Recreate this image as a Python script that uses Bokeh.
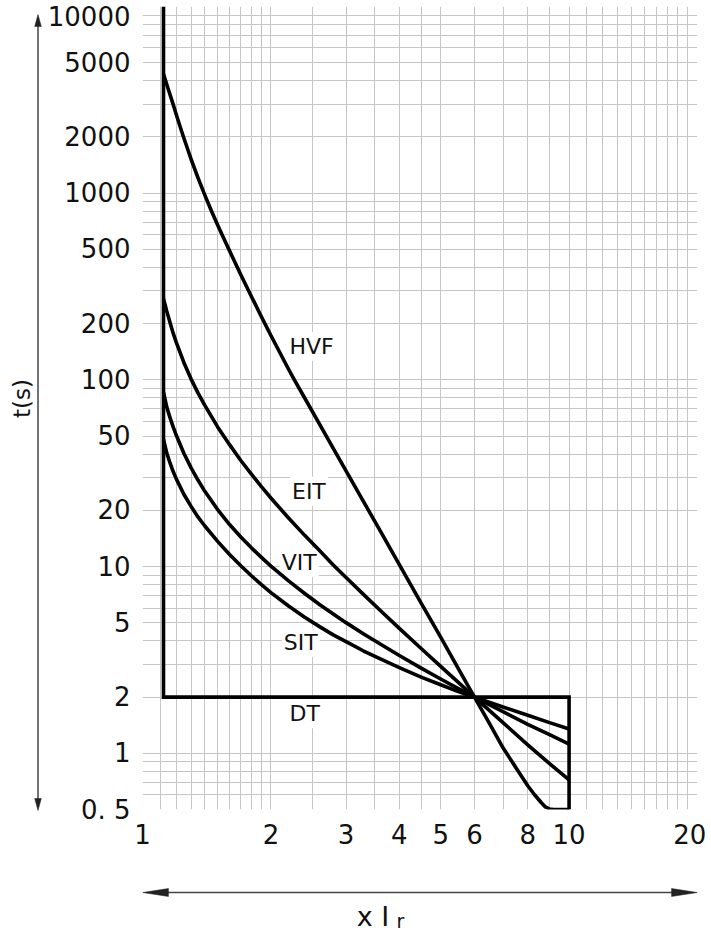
import math
from bokeh.plotting import figure
from bokeh.layouts import row, column
from bokeh.models import FixedTicker
from bokeh.core.properties import value
from bokeh.embed import file_html
from bokeh.resources import INLINE

# ---------------- data ----------------
x_major_ticks = [1, 2, 3, 4, 5, 6, 8, 10, 20]
x_tick_labels = ["1", "2", "3", "4", "5", "6", "8", "10", "20\u2009"]
# the top label sits a little below its 10000 line, as in the source chart
y_major_ticks = [0.5, 1, 2, 5, 10, 20, 50, 100, 200, 500, 1000, 2000, 5000, 8760]
y_tick_labels = ["0. 5", "1", "2", "5", "10", "20", "50", "100", "200", "500",
                 "1000", "2000", "5000", "10000"]

x_grid = [1, 1.1, 1.2, 1.3, 1.4, 1.5, 1.6, 1.7, 1.8, 1.9, 2, 2.5, 3, 3.5, 4, 4.5, 5,
          6, 7, 8, 9, 10, 11, 12, 13, 14, 15, 16, 17, 18, 19, 20]
y_grid = [0.5, 0.6, 0.7, 0.8, 0.9, 1, 2, 3, 4, 5, 6, 7, 8, 9, 10,
          20, 30, 40, 50, 60, 70, 80, 90, 100, 200, 300, 400, 500, 600, 700, 800, 900,
          1000, 2000, 3000, 4000, 5000, 6000, 7000, 8000, 9000, 10000]

dt_x = [1.12, 1.12, 10, 10]
dt_t = [10000, 2, 2, 0.5]

hvf_x = [1.12, 1.14, 1.16, 1.18, 1.2, 1.22, 1.25, 1.3, 1.35, 1.4, 1.45, 1.5, 1.55,
         1.6, 1.7, 1.8, 1.9, 2.0, 2.2, 2.27, 2.4, 2.6, 2.8, 3.0, 3.3, 3.6, 4.0, 4.5,
         5.0, 5.5, 6.0, 6.5, 7.0, 7.5, 8.0, 8.3, 8.6, 8.8, 9.0, 9.2, 10]
hvf_t = [4350, 3820, 3380, 2990, 2640, 2340, 1975, 1520, 1205, 976, 806, 676, 573,
         491, 366, 280, 218, 173, 114, 100, 80, 58, 43, 32.6, 22.2, 15.7, 10.25, 6.37,
         4.19, 2.84, 2.0, 1.45, 1.07, 0.84, 0.67, 0.6, 0.545, 0.516, 0.503, 0.5, 0.5]

eit_x = [1.12, 1.14, 1.16, 1.18, 1.2, 1.25, 1.3, 1.35, 1.4, 1.5, 1.6, 1.7, 1.8, 1.9,
         2.0, 2.2, 2.4, 2.6, 2.8, 3.0, 3.3, 3.6, 4.0, 4.5, 5.0, 5.5, 6.0, 7.0, 8.0,
         9.0, 10]
eit_t = [272, 233, 203, 178, 159, 124, 101, 85, 73, 56, 45, 37, 31.3, 26.8,
         23.3, 18.2, 14.7, 12.2, 10.2, 8.75, 7.08, 5.86, 4.67, 3.64, 2.92, 2.4, 2.0,
         1.46, 1.11, 0.88, 0.72]

vit_x = [1.12, 1.14, 1.16, 1.18, 1.2, 1.25, 1.3, 1.35, 1.4, 1.5, 1.6, 1.7, 1.8, 1.9,
         2.0, 2.2, 2.4, 2.6, 2.8, 3.0, 3.3, 3.6, 4.0, 4.5, 5.0, 5.5, 6.0, 7.0, 8.0,
         9.0, 10]
vit_t = [86, 71.5, 62.8, 56, 50.5, 40.5, 33.8, 29, 25.3, 20.2, 16.8, 14.4, 12.6, 11.2,
         10.06, 8.38, 7.18, 6.27, 5.57, 5.01, 4.36, 3.86, 3.34, 2.86, 2.5, 2.22, 2.0,
         1.67, 1.43, 1.26, 1.12]

sit_x = [1.12, 1.14, 1.16, 1.18, 1.2, 1.25, 1.3, 1.35, 1.4, 1.5, 1.6, 1.7, 1.8, 1.9,
         2.0, 2.2, 2.4, 2.6, 2.8, 3.0, 3.3, 3.6, 4.0, 4.5, 5.0, 5.5, 6.0, 7.0, 8.0,
         9.0, 10]
sit_t = [48, 40.5, 35.9, 32.3, 29.5, 24.4, 21.0, 18.4, 16.5, 13.65, 11.6, 10.1, 8.93,
         8.0, 7.26, 6.15, 5.36, 4.77, 4.31, 3.96, 3.53, 3.21, 2.88, 2.56, 2.33, 2.14,
         2.0, 1.77, 1.6, 1.46, 1.35]

curve_names = ["HVF", "EIT", "VIT", "SIT", "DT"]
label_x = [2.49, 2.455, 2.33, 2.35, 2.40]
label_t = [151, 25.3, 10.5, 3.93, 1.63]

# ---------------- layout (pixels) ----------------
PAGE_W, PAGE_H = 711, 935
LEFT_W = 44                 # strip with the vertical arrow and t(s)
MAIN_H = 860                # main chart height
FRAME_L, FRAME_R = 140, 697 # page x of the chart frame (bottom strip shares it)
FONT = "DejaVu Sans"
INK = "#111111"
AC = "#444444"


def strip(width, height, x0, x1, y0, y1):
    f = figure(width=width, height=height, x_range=(x0, x1), y_range=(y1, y0),
               output_backend="svg", toolbar_location=None,
               x_axis_location=None, y_axis_location=None, min_border=0)
    f.grid.visible = False
    f.outline_line_color = None
    f.background_fill_color = "white"
    f.border_fill_color = "white"
    return f


# main chart
p = figure(width=PAGE_W - LEFT_W, height=MAIN_H, x_axis_type="log", y_axis_type="log",
           x_range=(1, 20), y_range=(0.5, 10000), output_backend="svg",
           toolbar_location=None, min_border_left=FRAME_L - LEFT_W,
           min_border_right=PAGE_W - FRAME_R, min_border_top=6, min_border_bottom=51)
p.outline_line_color = None
p.background_fill_color = "white"
p.border_fill_color = "white"

for ax, ticks, labs in ((p.xaxis, x_major_ticks, x_tick_labels),
                        (p.yaxis, y_major_ticks, y_tick_labels)):
    ax.ticker = FixedTicker(ticks=ticks)
    ax.major_label_overrides = {t: l for t, l in zip(ticks, labs)}
    ax.axis_line_color = None
    ax.major_tick_line_color = None
    ax.minor_tick_line_color = None
    ax.major_tick_in = 0
    ax.major_tick_out = 0
    ax.minor_tick_in = 0
    ax.minor_tick_out = 0
    ax.major_label_text_font = FONT
    ax.major_label_text_font_size = "26px"
    ax.major_label_text_color = INK
p.xaxis.major_label_standoff = 10
p.yaxis.major_label_standoff = 12

p.xgrid.ticker = FixedTicker(ticks=x_grid)
p.ygrid.ticker = FixedTicker(ticks=y_grid)
for g in (p.xgrid, p.ygrid):
    g.grid_line_color = "#c6c6c6"
    g.grid_line_width = 1
    g.minor_grid_line_color = None

# curve names first (white boxes hide the grid), curves drawn over them
p.text(x=label_x, y=label_t, text=curve_names, text_font=value(FONT),
       text_font_size="22px", text_align="center", text_baseline="middle",
       text_color=INK, background_fill_color="white", padding=2)

LW = 3.6
p.line(dt_x, dt_t, line_color="black", line_width=LW, line_join="miter")
for xs, ts in ((hvf_x, hvf_t), (eit_x, eit_t), (vit_x, vit_t), (sit_x, sit_t)):
    p.line(xs, ts, line_color="black", line_width=LW, line_join="round")

# left strip: vertical double arrow and the t(s) title (page pixel coordinates)
L = strip(LEFT_W, PAGE_H, 0, LEFT_W, 0, PAGE_H)
L.segment(x0=[37.5], y0=[22], x1=[37.5], y1=[802], line_color=AC, line_width=1.5)
L.patches(xs=[[37.5, 34.2, 40.8], [37.5, 34.2, 40.8]],
          ys=[[14, 26, 26], [810, 798, 798]], fill_color="#222222",
          line_color="#222222", line_width=0.5)
L.text(x=[21], y=[398], text=["t(s)"], angle=math.pi / 2, text_font=value(FONT),
       text_font_size="23px", text_align="center", text_baseline="middle",
       text_color=INK)

# bottom strip: its frame is aligned with the chart frame (page x 140..697)
B = strip(PAGE_W - LEFT_W, PAGE_H - MAIN_H, FRAME_L, FRAME_R, MAIN_H, PAGE_H)
B.segment(x0=[160], y0=[892], x1=[680], y1=[892], line_color=AC, line_width=1.5)
B.patches(xs=[[140, 166, 166], [697, 671, 671]],
          ys=[[892, 888, 896], [892, 888, 896]], fill_color="#222222",
          line_color="#222222", line_width=0.5)
B.text(x=[355], y=[916], text=["x I"], text_font=value(FONT), text_font_size="27px",
       text_align="left", text_baseline="middle", text_color=INK)
B.text(x=[395], y=[920], text=["r"], text_font=value(FONT), text_font_size="19px",
       text_align="left", text_baseline="middle", text_color=INK)

layout = row(L, column(p, B))
open("out.html", "w").write(file_html(layout, INLINE))
